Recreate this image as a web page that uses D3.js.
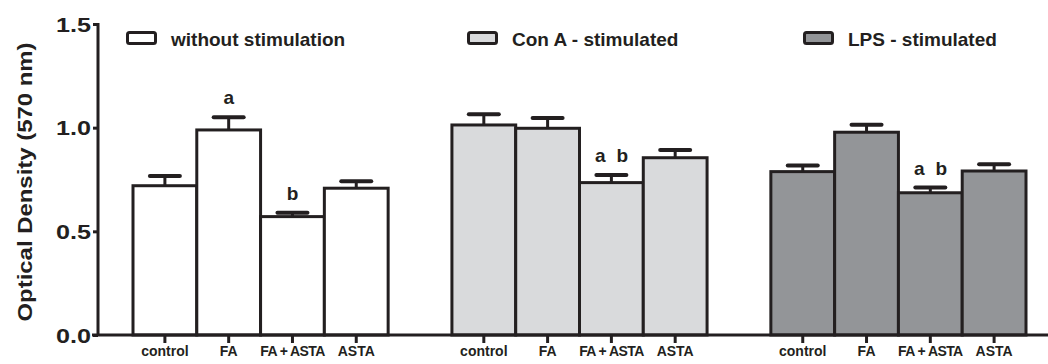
<!DOCTYPE html>
<html>
<head>
<meta charset="utf-8">
<script src="https://cdn.jsdelivr.net/npm/d3@7"></script>
<style>
  body { margin: 0; background: #fff; }
  text { font-family: "Liberation Sans", Arial, sans-serif; font-weight: bold; fill: #231f20; }
</style>
</head>
<body>
<div id="chart" style="width:1048px;height:364px"></div>
<script>
// Data
var groups = ['without stimulation', 'Con A - stimulated', 'LPS - stimulated'];
var categories = ['control', 'FA', 'FA + ASTA', 'ASTA'];
var means = [
  [0.72, 0.989, 0.571, 0.708],
  [1.013, 0.997, 0.735, 0.855],
  [0.788, 0.978, 0.686, 0.791]
];
var sem = [
  [0.047, 0.061, 0.019, 0.033],
  [0.052, 0.05, 0.037, 0.037],
  [0.029, 0.036, 0.025, 0.032]
];
var marks = [
  [[], ['a'], ['b'], []],
  [[], [], ['a', 'b'], []],
  [[], [], ['a', 'b'], []]
];
var colors = ['#ffffff', '#d9dadc', '#939598'];
var yTicks = [0, 0.5, 1.0, 1.5];

var ink = '#231f20';
var margin = {top: 24, right: 22, bottom: 29, left: 98};
var width = 1048, height = 364;

var svg = d3.select('#chart').append('svg')
    .attr('width', width)
    .attr('height', height);

var plotArea = svg.append('g')
    .attr('transform', `translate(${margin.left}, ${margin.top})`);

var innerH = height - margin.top - margin.bottom;

// Scales
var x0 = d3.scaleBand()
    .domain(groups)
    .range([35, 928])
    .paddingInner(0.2)
    .paddingOuter(0);
var x1 = d3.scaleBand()
    .domain(categories)
    .range([0, x0.bandwidth()]);
var y = d3.scaleLinear()
    .domain([0, 1.5])
    .range([innerH, 0]);

// Rows for drawing
var rows = [];
groups.forEach((g, gi) => {
  categories.forEach((c, ci) => {
    rows.push({group: g, gi: gi, cat: c, mean: means[gi][ci], err: sem[gi][ci], mark: marks[gi][ci]});
  });
});
var cx = d => x0(d.group) + x1(d.cat) + x1.bandwidth() / 2;

// Bars
plotArea.append('g').attr('id', 'bars')
  .selectAll('rect')
  .data(rows)
  .join('rect')
    .attr('x', d => x0(d.group) + x1(d.cat))
    .attr('y', d => y(d.mean))
    .attr('width', x1.bandwidth())
    .attr('height', d => y(0) - y(d.mean))
    .attr('fill', d => colors[d.gi])
    .attr('stroke', ink)
    .attr('stroke-width', 3);

// Error bars (upper only)
var errs = plotArea.append('g').attr('id', 'errors')
  .selectAll('g')
  .data(rows)
  .join('g')
    .attr('transform', d => `translate(${cx(d)}, 0)`);
errs.append('line')
    .attr('y1', d => y(d.mean))
    .attr('y2', d => y(d.mean + d.err))
    .attr('stroke', ink)
    .attr('stroke-width', 3);
errs.append('line')
    .attr('x1', -15).attr('x2', 15)
    .attr('y1', d => y(d.mean + d.err))
    .attr('y2', d => y(d.mean + d.err))
    .attr('stroke', ink)
    .attr('stroke-width', 4)
    .attr('stroke-linecap', 'round');

// Significance letters
var markData = [];
rows.forEach(d => d.mark.forEach((m, k) => markData.push({row: d, m: m, k: k, n: d.mark.length})));
plotArea.append('g').attr('id', 'marks')
  .selectAll('text')
  .data(markData)
  .join('text')
    .attr('x', d => cx(d.row) + (d.k - (d.n - 1) / 2) * 22)
    .attr('y', d => y(d.row.mean + d.row.err) - 13)
    .attr('text-anchor', 'middle')
    .attr('font-size', 19)
    .text(d => d.m);

// Axes
var yAxisGroup = plotArea.append('g')
    .call(d3.axisLeft(y).tickValues(yTicks).tickFormat(d3.format('.1f')).tickSize(5).tickPadding(2));
yAxisGroup.select('.domain').remove();
yAxisGroup.append('line')
    .attr('x1', 0).attr('x2', 0)
    .attr('y1', y(1.5) - 1).attr('y2', y(0))
    .attr('stroke', ink).attr('stroke-width', 3);
yAxisGroup.selectAll('.tick line').attr('stroke', ink).attr('stroke-width', 3);
yAxisGroup.selectAll('.tick text')
    .attr('font-size', 20)
    .attr('font-family', '"Liberation Sans", Arial, sans-serif')
    .attr('font-weight', 'bold')
    .attr('fill', ink)
    .attr('textLength', 35)
    .attr('lengthAdjust', 'spacingAndGlyphs')
    .attr('dy', '0.36em');

var xAxisGroup = plotArea.append('g')
    .attr('transform', `translate(0, ${innerH})`);
xAxisGroup.append('line')
    .attr('x1', -6).attr('x2', width - margin.left)
    .attr('stroke', ink).attr('stroke-width', 3);
groups.forEach(g => {
  var sub = xAxisGroup.append('g')
      .attr('transform', `translate(${x0(g)}, 0)`)
      .call(d3.axisBottom(x1).tickSize(8).tickPadding(3));
  sub.select('.domain').remove();
  sub.selectAll('.tick line').attr('stroke', ink).attr('stroke-width', 3);
  sub.selectAll('.tick text')
      .attr('font-size', 14)
      .attr('font-family', '"Liberation Sans", Arial, sans-serif')
      .attr('font-weight', 'bold')
      .attr('fill', ink)
      .attr('letter-spacing', d => d === 'FA + ASTA' ? -0.6 : 0);
});

// Axis title
svg.append('text')
    .attr('transform', 'rotate(270)')
    .attr('x', -182)
    .attr('y', 32)
    .attr('text-anchor', 'middle')
    .attr('font-size', 20)
    .attr('textLength', 279)
    .attr('lengthAdjust', 'spacingAndGlyphs')
    .text('Optical Density (570 nm)');

// Legend
var legendX = [126, 467, 803];
var legend = svg.append('g').attr('id', 'legend')
  .selectAll('g')
  .data(groups)
  .join('g')
    .attr('transform', (d, i) => `translate(${legendX[i]}, 31)`);
legend.append('rect')
    .attr('x', 1.5).attr('y', 1.5)
    .attr('width', 28).attr('height', 11)
    .attr('rx', 2)
    .attr('fill', (d, i) => colors[i])
    .attr('stroke', ink)
    .attr('stroke-width', 3);
legend.append('text')
    .attr('x', 45)
    .attr('y', 15)
    .attr('font-size', 19)
    .text(d => d);
</script>
</body>
</html>
